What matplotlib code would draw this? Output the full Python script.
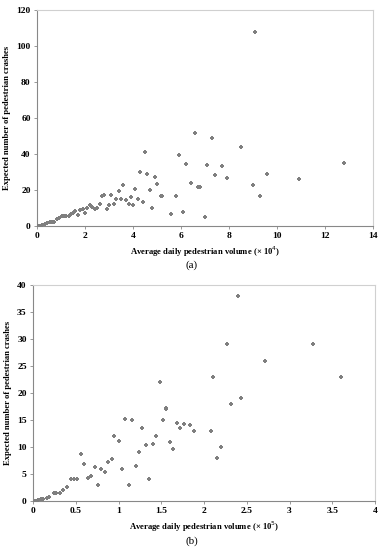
import matplotlib
matplotlib.use("Agg")
import matplotlib.pyplot as plt

# ---- data (a) ----
xa = [0.05, 0.12, 0.22, 0.32, 0.42, 0.53, 0.61, 0.72, 0.82, 0.92, 1.03, 1.11, 1.21, 1.32,
      1.42, 1.51, 1.6, 1.7, 1.8, 1.9, 2.01, 2.1, 2.2, 2.3, 2.4, 2.5, 2.61, 2.7, 2.8, 2.9,
      3.01, 3.1, 3.22, 3.3, 3.4, 3.51, 3.6, 3.7, 3.82, 3.9, 4.01, 4.1, 4.19, 4.3, 4.4,
      4.51, 4.59, 4.72, 4.8, 4.91, 5.01, 5.17, 5.22, 5.6, 5.8, 5.91, 6.09, 6.19, 6.41,
      6.6, 6.72, 6.81, 7.0, 7.1, 7.31, 7.41, 7.71, 7.91, 8.5, 9.0, 9.1, 9.3, 9.6, 10.9, 12.8]
ya = [0.0, 0.2, 0.55, 1.1, 1.85, 2.0, 2.2, 2.4, 4.1, 4.4, 5.4, 5.7, 5.6, 5.7,
      6.9, 7.4, 8.5, 6.1, 8.9, 9.4, 7.4, 10.2, 11.5, 10.4, 9.4, 9.8, 12.0, 16.9, 17.4, 9.3,
      11.9, 17.0, 12.0, 15.2, 19.4, 15.2, 23.0, 14.6, 12.4, 16.1, 11.9, 20.7, 15.0, 29.8, 13.3,
      41.0, 28.9, 19.8, 9.8, 27.4, 23.3, 16.5, 16.8, 6.9, 16.5, 39.6, 8.0, 34.4, 23.9,
      51.9, 21.9, 21.9, 4.8, 33.9, 48.9, 28.5, 33.5, 26.9, 43.9, 23.0, 108.0, 16.9, 28.9, 25.9, 34.8]

# ---- data (b) ----
xb = [0.02, 0.06, 0.09, 0.12, 0.16, 0.19, 0.24, 0.27, 0.32, 0.35, 0.4, 0.44, 0.48, 0.52,
      0.56, 0.6, 0.64, 0.68, 0.72, 0.76, 0.8, 0.84, 0.88, 0.92, 0.95, 1.0, 1.04, 1.08, 1.12,
      1.16, 1.2, 1.24, 1.28, 1.32, 1.36, 1.4, 1.44, 1.48, 1.52, 1.56, 1.56, 1.6, 1.64, 1.68,
      1.72, 1.76, 1.84, 1.88, 2.08, 2.11, 2.15, 2.2, 2.27, 2.32, 2.395, 2.43, 2.71, 3.28, 3.6]
yb = [0.0, 0.1, 0.25, 0.4, 0.55, 0.75, 1.5, 1.5, 1.4, 2.0, 2.5, 4.1, 4.1, 4.1,
      8.7, 6.85, 4.3, 4.5, 6.3, 3.0, 5.9, 5.4, 7.2, 7.8, 12.0, 11.0, 5.9, 15.2, 2.9,
      15.0, 6.4, 8.95, 13.5, 10.3, 3.95, 10.6, 12.0, 22.0, 15.0, 17.0, 17.2, 10.9, 9.6, 14.4,
      13.5, 14.3, 14.0, 13.0, 13.0, 23.0, 8.0, 9.9, 29.0, 18.0, 38.0, 19.0, 26.0, 29.0, 23.0]

xticks_a = [0, 2, 4, 6, 8, 10, 12, 14]
yticks_a = [0, 20, 40, 60, 80, 100, 120]
xticks_b = [0, 0.5, 1, 1.5, 2, 2.5, 3, 3.5, 4]
yticks_b = [0, 5, 10, 15, 20, 25, 30, 35, 40]

serif = ["Liberation Serif", "DejaVu Serif"]
plt.rcParams["font.family"] = serif

fig = plt.figure(figsize=(3.83, 5.5), dpi=100)

def style(ax, xt, yt, xlim, ylim, xlabel):
    ax.set_xlim(*xlim)
    ax.set_ylim(*ylim)
    ax.set_xticks(xt)
    ax.set_yticks(yt)
    ax.set_xticklabels([("%g" % v) for v in xt], fontsize=6.8, fontweight="bold")
    ax.set_yticklabels([("%g" % v) for v in yt], fontsize=6.8, fontweight="bold")
    ax.tick_params(axis="both", direction="out", length=2.5, width=0.6, color="#888888", pad=2)
    for s in ["top", "right"]:
        ax.spines[s].set_color("#d0d0d0")
        ax.spines[s].set_linewidth(0.8)
    for s in ["left", "bottom"]:
        ax.spines[s].set_color("#888888")
        ax.spines[s].set_linewidth(0.8)
    ax.set_xlabel(xlabel, fontsize=6.2, fontweight="bold", labelpad=3)
    ax.set_ylabel("Expected number of pedestrian crashes", fontsize=6.2, fontweight="bold", labelpad=4)

ax1 = fig.add_axes([0.0966, 0.589, 0.877, 0.393])
ax1.scatter(xa, ya, marker="P", s=9, color="#7f7f7f", linewidths=0, zorder=3)
style(ax1, xticks_a, yticks_a, (0, 14), (0, 120), "Average daily pedestrian volume (× 10$^4$)")

ax2 = fig.add_axes([0.0862, 0.0896, 0.893, 0.392])
ax2.scatter(xb, yb, marker="P", s=9, color="#7f7f7f", linewidths=0, zorder=3)
style(ax2, xticks_b, yticks_b, (0, 4), (0, 40), "Average daily pedestrian volume (× 10$^5$)")

fig.text(0.5, 1 - 265 / 550, "(a)", ha="center", va="center", fontsize=8)
fig.text(0.5, 1 - 541 / 550, "(b)", ha="center", va="center", fontsize=8)

fig.savefig("out.png", dpi=100)
